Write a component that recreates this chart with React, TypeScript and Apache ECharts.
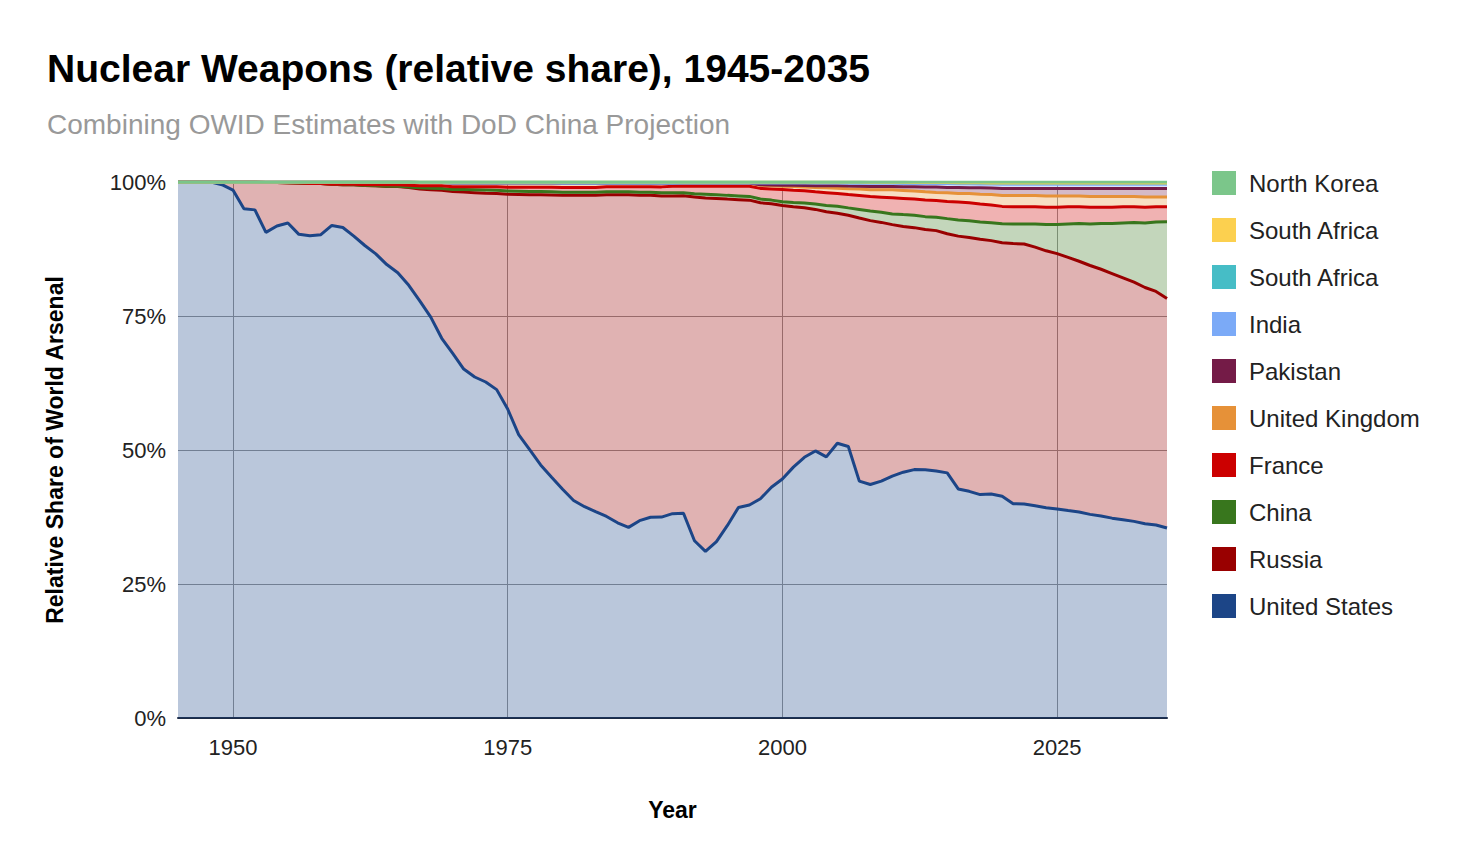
import { useEffect, useRef } from "react";
import * as echarts from "echarts";

const START = 1945;
const years: string[] = [];
for (let y = START; y <= 2035; y++) years.push(String(y));

// share of world arsenal (%)
const usShare = [
  100, 100, 100, 100, 99.5,
  98.5, 95, 94.8, 90.7, 91.8, 92.3, 89.6, 89.6, 89.9, 91.8,
  91.6, 89.9, 88.2, 86.6, 84.7, 83.2, 81, 78.2, 75.2, 71.3,
  68.5, 65.5, 64, 63, 61.6, 58, 53.2, 50.4, 47.6, 45.3,
  43.1, 41, 39.9, 39, 38.1, 36.9, 36, 37.3, 37.9, 37.9,
  38.4, 38.4, 33.2, 31.2, 33, 36, 39.4, 39.9, 41.2, 43.3,
  44.8, 47.2, 49, 50.2, 49, 51.5, 51.1, 44.2, 43.7, 44.2,
  45.1, 45.7, 46.1, 46.1, 45.9, 45.5, 42.4, 41.8, 41.2, 41.4,
  40.9, 39.7, 39.7, 39.4, 39.1, 38.8, 38.5, 38.2, 37.8, 37.5,
  37.1, 36.8, 36.5, 36.1, 35.8, 35.4,
];
// upper edge of the US + Russia band
const russiaTop = [
  100, 100, 100, 100, 100,
  100, 100, 100, 100, 99.9, 99.8, 99.1, 99.3, 99.4, 99.5,
  99.6, 99.5, 99.4, 99.3, 99.3, 99.3, 99.3, 99.2, 99.1, 99.1,
  98.9, 98.7, 98.6, 98.4, 98.4, 98.3, 98.3, 98.3, 98.4, 98.4,
  98.5, 98.5, 98.7, 98.8, 98.9, 98.9, 98.8, 98.8, 98.7, 98.5,
  98.1, 97.9, 97.6, 97.4, 97.2, 97, 97, 97, 96.8, 96.5,
  96.1, 96.2, 95.9, 95.6, 95, 94.6, 94.6, 93.3, 93.1, 92.5,
  92, 91.4, 91, 90.7, 90.6, 89.9, 89.2, 88.6, 88.3, 88.2,
  87.7, 87.9, 87.9, 87.4, 86.9, 86.2, 85.5, 84.7, 84, 83.3,
  82.5, 81.7, 80.9, 80, 79.1, 78.2,
];
const chinaShare = {
  from: 1964, values: [
    0.02, 0.05, 0.1, 0.2, 0.3, 0.35,
    0.4, 0.5, 0.55, 0.6, 0.6, 0.6, 0.6, 0.6, 0.6, 0.6,
    0.6, 0.6, 0.6, 0.6, 0.6, 0.6, 0.6, 0.6, 0.6, 0.6,
    0.6, 0.6, 0.6, 0.7, 0.7, 0.7, 0.7, 0.7, 0.7, 0.7,
    0.7, 0.8, 0.9, 1, 1.2, 1.3, 1.4, 1.6, 1.8, 1.9,
    2, 2.2, 2.3, 2.4, 2.5, 2.8, 3, 3.1, 3.2, 3.3,
    3.5, 3.6, 3.7, 4.3, 4.9, 5.4, 6.2, 7, 7.7, 8.5,
    9.3, 10.2, 11.1, 12, 12.9, 14.3,
  ],
};
const franceShare = {
  from: 1960, values: [
    0.1, 0.1, 0.15, 0.2, 0.3, 0.3, 0.35, 0.4, 0.45, 0.5,
    0.5, 0.5, 0.55, 0.6, 0.65, 0.7, 0.75, 0.8, 0.8, 0.85,
    0.9, 0.9, 0.9, 0.9, 0.9, 0.9, 0.9, 1, 1, 1.1,
    1.2, 1.2, 1.4, 1.5, 1.6, 1.7, 1.8, 1.9, 2, 2.1,
    2.3, 2.3, 2.3, 2.3, 2.4, 2.4, 2.5, 2.6, 2.7, 2.8,
    3, 3, 3, 3.1, 3.1, 3.2, 3.3, 3.3, 3.3, 3.3,
    3.2, 3.2, 3.2, 3.2, 3.2, 3.2, 3.2, 3.1, 3.1, 3,
    3, 3, 2.9, 2.9, 2.8, 2.8,
  ],
};
const ukShare = {
  from: 1953, values: [
    0.1, 0.1, 0.15, 0.2, 0.3, 0.3, 0.4,
    0.4, 0.4, 0.5, 0.5, 0.5, 0.5, 0.6, 0.6, 0.6, 0.6,
    0.7, 0.7, 0.7, 0.7, 0.7, 0.8, 0.8, 0.8, 0.8, 0.8,
    0.8, 0.8, 0.8, 0.8, 0.7, 0.7, 0.7, 0.7, 0.7, 0.7,
    0.6, 0.6, 0.6, 0.6, 0.6, 0.6, 0.6, 0.6, 0.6, 0.6,
    0.6, 0.7, 0.7, 0.8, 0.9, 1, 1.1, 1.2, 1.3, 1.4,
    1.5, 1.5, 1.5, 1.5, 1.5, 1.6, 1.6, 1.7, 1.8, 1.9,
    2, 2.1, 2.1, 2.1, 2.1, 2.1, 2, 2, 2, 2,
    2, 1.9, 1.9, 1.9, 1.8, 1.8,
  ],
};
const pakistanShare = {
  from: 1998, values: [
    0.1, 0.15, 0.2, 0.25, 0.3, 0.35, 0.4, 0.45, 0.5, 0.55, 0.6, 0.6,
    0.6, 0.7, 0.8, 0.9, 1, 1, 1.1, 1.1, 1.2, 1.2,
    1.3, 1.3, 1.3, 1.3, 1.4, 1.4, 1.4, 1.4, 1.5, 1.5,
    1.5, 1.5, 1.5, 1.6, 1.6, 1.6,
  ],
};
const indiaShare = {
  from: 1998, values: [
    0.3, 0.35, 0.4, 0.4, 0.45, 0.5, 0.5, 0.5, 0.55, 0.55, 0.6, 0.6,
    0.6, 0.6, 0.6, 0.65, 0.65, 0.7, 0.7, 0.7, 0.7, 0.75,
    0.8, 0.8, 0.8, 0.8, 0.8, 0.8, 0.8, 0.8, 0.8, 0.8,
    0.8, 0.8, 0.8, 0.8, 0.8, 0.8,
  ],
};
const tealShare = {
  from: 1967, values: [
    0.1, 0.1, 0.1, 0.2, 0.2, 0.2, 0.2, 0.2, 0.2, 0.2, 0.2, 0.2, 0.2,
    0.2, 0.2, 0.2, 0.2, 0.2, 0.2, 0.2, 0.2, 0.2, 0.2, 0.2, 0.2, 0.2, 0.2,
    0.2, 0.2, 0.2, 0.2, 0.2, 0.2, 0.2, 0.2, 0.2, 0.2, 0.2, 0.2, 0.2, 0.2,
    0.2, 0.2, 0.2, 0.2, 0.2, 0.2, 0.2, 0.2, 0.2, 0.2, 0.2, 0.2, 0.2, 0.2,
    0.2, 0.2, 0.2, 0.2, 0.2, 0.2, 0.2, 0.2, 0.2, 0.2, 0.2, 0.2, 0.2, 0.2,
  ],
};
const southAfricaShare = { from: 1980, values: [0.02, 0.02, 0.02, 0.02, 0.02, 0.02, 0.02, 0.02, 0.02, 0.02, 0.02] };
const northKoreaShare = {
  from: 2006, values: [
    0.02, 0.02, 0.03, 0.04, 0.05, 0.06, 0.07, 0.08, 0.09, 0.1,
    0.12, 0.14, 0.16, 0.18, 0.2, 0.2, 0.2, 0.2, 0.2, 0.2,
    0.2, 0.2, 0.2, 0.2, 0.2, 0.2, 0.2, 0.2, 0.2, 0.2,
  ],
};

function pad(s: { from: number; values: number[] }) {
  return years.map((y) => {
    const i = +y - s.from;
    return i >= 0 && i < s.values.length ? s.values[i] : 0;
  });
}

const russiaShare = russiaTop.map((t, i) => Math.max(0, t - usShare[i]));

const seriesDefs = [
  { name: "United States", color: "#1c4587", data: usShare },
  { name: "Russia", color: "#990000", data: russiaShare },
  { name: "China", color: "#38761d", data: pad(chinaShare) },
  { name: "France", color: "#cc0000", data: pad(franceShare) },
  { name: "United Kingdom", color: "#e69138", data: pad(ukShare) },
  { name: "Pakistan", color: "#741b47", data: pad(pakistanShare) },
  { name: "India", color: "#7baaf7", data: pad(indiaShare) },
  { name: "South Africa ", color: "#46bdc6", data: pad(tealShare) },
  { name: "South Africa", color: "#fcd04f", data: pad(southAfricaShare) },
  { name: "North Korea", color: "#7bc68a", data: pad(northKoreaShare) },
];

const totals = years.map((_, i) => seriesDefs.reduce((s, d) => s + d.data[i], 0));

export default function App() {
  const ref = useRef<HTMLDivElement | null>(null);

  useEffect(() => {
    const chart = echarts.init(ref.current!, null, { renderer: "svg" });
    const font = "Arial, 'Liberation Sans', sans-serif";
    const showYear = (i: number) => (START + i) % 25 === 0;
    chart.setOption({
      animation: false,
      textStyle: { fontFamily: font },
      title: [
        { text: "Nuclear Weapons (relative share), 1945-2035", left: 34, top: 36,
          textStyle: { fontSize: 39, fontWeight: "bold", color: "#000", fontFamily: font } },
        { text: "Combining OWID Estimates with DoD China Projection", left: 34, top: 97,
          textStyle: { fontSize: 28, fontWeight: "normal", color: "#999", fontFamily: font } },
      ],
      legend: {
        orient: "vertical", left: 1199, top: 158, itemGap: 23, itemWidth: 24, itemHeight: 24,
        icon: "rect", data: seriesDefs.map((d) => d.name).reverse(),
        textStyle: { fontSize: 24, color: "#222", padding: [0, 0, 0, 8] },
      },
      grid: { left: 170, right: 293, top: 174, bottom: 140 },
      xAxis: {
        type: "category", data: years, boundaryGap: false,
        name: "Year", nameLocation: "middle", nameGap: 80,
        nameTextStyle: { fontSize: 23, fontWeight: "bold", color: "#000" },
        axisLine: { lineStyle: { color: "#1c2a44", width: 2 } },
        axisTick: { show: false },
        axisLabel: { interval: (i: number) => showYear(i), fontSize: 22, color: "#222", margin: 18 },
        splitLine: { show: true, interval: (i: number) => showYear(i), lineStyle: { color: "#999" } },
      },
      yAxis: {
        type: "value", min: 0, max: 100, interval: 25,
        name: "Relative Share of World Arsenal", nameLocation: "middle", nameGap: 112,
        nameTextStyle: { fontSize: 23, fontWeight: "bold", color: "#000" },
        axisLabel: { formatter: "{value}%", fontSize: 22, color: "#222", margin: 12 },
        splitLine: { lineStyle: { color: "#999" } },
      },
      series: seriesDefs.map((d) => ({
        type: "line", name: d.name, stack: "all", showSymbol: false,
        data: d.data.map((v, i) => (v / totals[i]) * 100),
        itemStyle: { color: d.color },
        lineStyle: { color: d.color, width: 3 },
        areaStyle: { color: d.color, opacity: 0.3 },
      })),
    });
    return () => chart.dispose();
  }, []);

  return <div ref={ref} style={{ width: 1452, height: 850 }} />;
}
